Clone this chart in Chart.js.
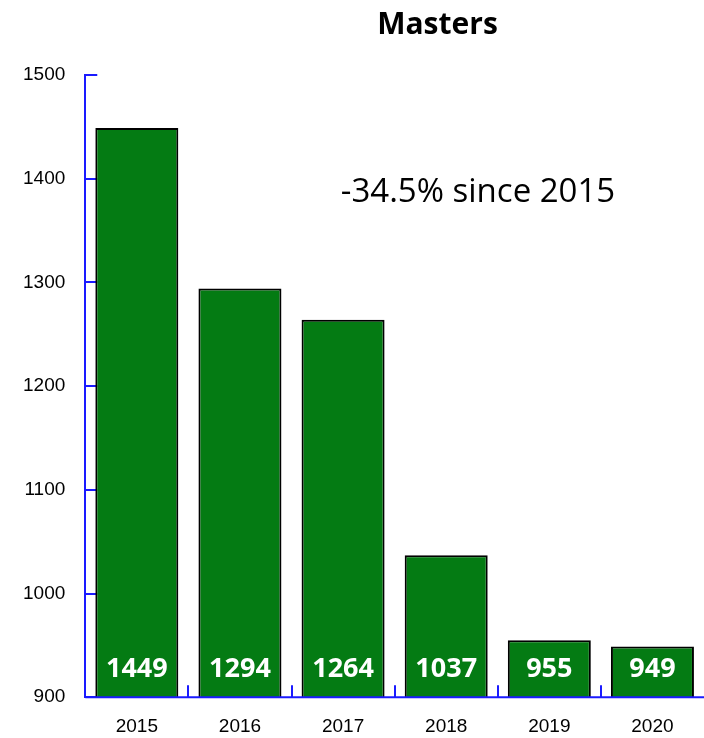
<!DOCTYPE html>
<html>
<head>
<meta charset="utf-8">
<script src="https://cdn.jsdelivr.net/npm/chart.js@4"></script>
<style>
html,body{margin:0;padding:0;background:#fff;}
#wrap{width:704px;height:738px;position:relative;}
</style>
</head>
<body>
<div id="wrap"><canvas id="c" width="704" height="738"></canvas></div>
<script>
const categories = ['2015','2016','2017','2018','2019','2020'];
const values = [1449, 1294, 1264, 1037, 955, 949];
const yTicks = [900, 1000, 1100, 1200, 1300, 1400, 1500];
const chartTitle = 'Masters';
const noteText = '-34.5% since 2015';

const AXIS = '#1a1aff';

const decor = {
  id: 'decor',
  beforeDatasetsDraw(chart) {
    const ctx = chart.ctx, xs = chart.scales.x, ys = chart.scales.y;
    ctx.save();
    ctx.strokeStyle = AXIS; ctx.lineWidth = 2;
    ctx.beginPath();
    yTicks.forEach(v => {
      const y = Math.round(ys.getPixelForValue(v));
      ctx.moveTo(xs.left, y); ctx.lineTo(xs.left + 12, y);
    });
    for (let i = 0; i < categories.length - 1; i++) {
      const x = Math.round((xs.getPixelForValue(i) + xs.getPixelForValue(i + 1)) / 2);
      ctx.moveTo(x, ys.bottom); ctx.lineTo(x, ys.bottom - 12);
    }
    ctx.stroke();
    ctx.restore();
  },
  afterDatasetsDraw(chart) {
    const ctx = chart.ctx, ys = chart.scales.y;
    const meta = chart.getDatasetMeta(0);
    ctx.save();
    ctx.strokeStyle = AXIS; ctx.lineWidth = 2;
    ctx.beginPath();
    ctx.moveTo(chart.chartArea.left, ys.bottom); ctx.lineTo(chart.chartArea.right, ys.bottom);
    ctx.stroke();
    ctx.fillStyle = '#ffffff';
    ctx.font = 'bold 27px "Open Sans"';
    ctx.textAlign = 'center'; ctx.textBaseline = 'middle';
    meta.data.forEach((bar, i) => {
      ctx.fillText(String(values[i]), bar.x, ys.getPixelForValue(yTicks[0]) - 28);
    });
    ctx.fillStyle = '#000';
    ctx.font = 'bold 30px "Open Sans"';
    ctx.textBaseline = 'alphabetic';
    ctx.fillText(chartTitle, 437.5, 34);
    ctx.font = '33px "Open Sans"';
    ctx.fillText(noteText, 478, 202);
    ctx.restore();
  }
};

new Chart(document.getElementById('c'), {
  type: 'bar',
  data: {
    labels: categories,
    datasets: [{
      data: values,
      backgroundColor: '#047b13',
      borderColor: '#000000',
      borderWidth: 2,
      borderSkipped: 'bottom',
      barPercentage: 0.805,
      categoryPercentage: 1.0
    }]
  },
  options: {
    responsive: false,
    animation: false,
    events: [],
    layout: { padding: { left: 3, top: 75, right: 0, bottom: -18 } },
    plugins: { legend: { display: false }, title: { display: false }, tooltip: { enabled: false } },
    scales: {
      x: {
        grid: { display: false, drawTicks: false },
        border: { display: false },
        ticks: { color: '#000', maxRotation: 0, font: { family: '"Liberation Sans", Arial', size: 19 }, padding: 18 }
      },
      y: {
        min: 900, max: 1500,
        afterBuildTicks(axis) { axis.ticks = yTicks.map(v => ({ value: v })); },
        grid: { display: false, drawTicks: false },
        border: { display: true, color: AXIS, width: 2 },
        ticks: { color: '#000', font: { family: '"Liberation Sans", Arial', size: 19 }, padding: 20,
                 callback: v => String(v) }
      }
    }
  },
  plugins: [decor]
});
</script>
</body>
</html>
